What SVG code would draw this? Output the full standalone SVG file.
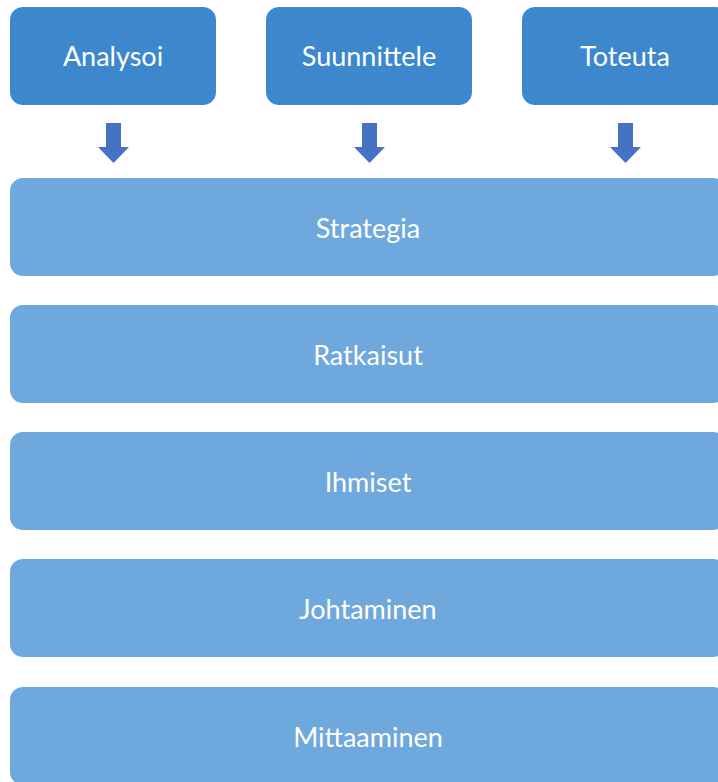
<svg xmlns="http://www.w3.org/2000/svg" width="718" height="782" viewBox="0 0 718 782">
<style>
.top{fill:#3D88CC}
.wide{fill:#6FA8DC}
.lbl{font-family:Lato,"Open Sans","Liberation Sans",sans-serif;font-size:27px;fill:#FFFFFF;text-anchor:middle}
.arr{fill:#4472C4}
</style>
<rect width="718" height="782" fill="#FFFFFF"/>
<g id="analysoi"><rect class="top" x="10" y="7" width="206" height="98" rx="13"/><text class="lbl" x="113" y="66">Analysoi</text></g>
<g id="suunnittele"><rect class="top" x="266" y="7" width="206" height="98" rx="13"/><text class="lbl" x="369" y="66">Suunnittele</text></g>
<g id="toteuta"><rect class="top" x="522" y="7" width="206" height="98" rx="13"/><text class="lbl" x="625" y="66">Toteuta</text></g>
<g id="connectors">
<path class="arr" d="M106 123H121V147H129L113.5 163L98 147H106Z"/>
<path class="arr" d="M362 123H377V147H385L369.5 163L354 147H362Z"/>
<path class="arr" d="M618 123H633V147H641L625.5 163L610 147H618Z"/>
</g>
<g id="strategia"><rect class="wide" x="10" y="178" width="716" height="98" rx="13"/><text class="lbl" x="368" y="238">Strategia</text></g>
<g id="ratkaisut"><rect class="wide" x="10" y="305" width="716" height="98" rx="13"/><text class="lbl" x="368" y="365">Ratkaisut</text></g>
<g id="ihmiset"><rect class="wide" x="10" y="432" width="716" height="98" rx="13"/><text class="lbl" x="368" y="492">Ihmiset</text></g>
<g id="johtaminen"><rect class="wide" x="10" y="559" width="716" height="98" rx="13"/><text class="lbl" x="368" y="619">Johtaminen</text></g>
<g id="mittaaminen"><rect class="wide" x="10" y="687" width="716" height="98" rx="13"/><text class="lbl" x="368" y="747">Mittaaminen</text></g>
</svg>
